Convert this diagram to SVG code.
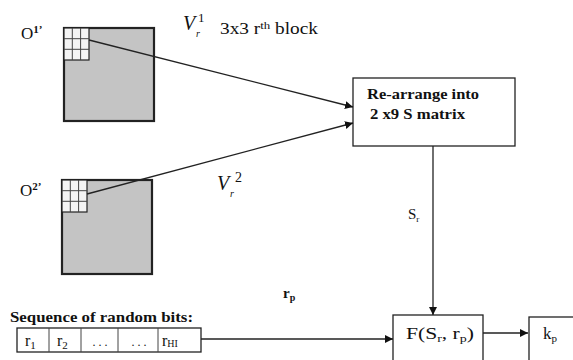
<svg xmlns="http://www.w3.org/2000/svg" width="573" height="360" viewBox="0 0 573 360" font-family="'Liberation Serif', 'DejaVu Serif', serif">
<style>
text{fill:#111}
.blk{fill:#c4c4c4;stroke:#222;stroke-width:2.2}
.grid{fill:#f4f4f4;stroke:#222;stroke-width:1.2}
.gl{stroke:#444;stroke-width:1}
.box{fill:#fff;stroke:#222;stroke-width:1.3}
.con{stroke:#222;stroke-width:1.3;fill:none}
.b{font-weight:bold}
</style>
<defs>
<marker id="ah" viewBox="0 0 10 10" refX="10" refY="5" markerWidth="8" markerHeight="8" orient="auto" markerUnits="userSpaceOnUse">
<path d="M0,0 L10,5 L0,10 z" fill="#111"/>
</marker>
</defs>
<g id="block1">
<rect class="blk" x="64" y="28" width="90" height="93"/>
<rect class="grid" x="64" y="28" width="25" height="32"/>
<path class="gl" d="M72.3,28V60M80.6,28V60M64,38.7H89M64,49.3H89"/>
<text x="21" y="39" font-size="17">O<tspan font-size="11" dy="-6" class="b">1’</tspan></text>
</g>
<g id="block2">
<rect class="blk" x="62" y="180" width="90" height="94"/>
<rect class="grid" x="62" y="180" width="25" height="32"/>
<path class="gl" d="M70.3,180V212M78.6,180V212M62,190.7H87M62,201.3H87"/>
<text x="20" y="196" font-size="17">O<tspan font-size="11" dy="-6" class="b">2’</tspan></text>
</g>
<g id="labels">
<text x="183" y="30" font-size="20" font-style="italic">V</text>
<text x="196" y="37" font-size="10" font-style="italic">r</text>
<text x="198" y="22" font-size="13">1</text>
<text x="220" y="34" font-size="16.5" textLength="98" lengthAdjust="spacingAndGlyphs">3x3 r<tspan font-size="11" dy="-5">th</tspan><tspan dy="5"> block</tspan></text>
<text x="217" y="190" font-size="20" font-style="italic">V</text>
<text x="230" y="197" font-size="10" font-style="italic">r</text>
<text x="235" y="182" font-size="14">2</text>
<text x="408" y="219" font-size="15">S<tspan font-size="9" dy="3">r</tspan></text>
<text x="283" y="298" font-size="15" class="b">r<tspan font-size="10" dy="3">p</tspan></text>
</g>
<g id="rearrange">
<rect class="box" x="353" y="78" width="162" height="68"/>
<text x="367" y="99" font-size="15" class="b" textLength="112" lengthAdjust="spacingAndGlyphs">Re-arrange into</text>
<text x="370" y="119" font-size="15" class="b" textLength="95" lengthAdjust="spacingAndGlyphs">2 x9 S matrix</text>
</g>
<g id="sequence">
<text x="10" y="322" font-size="15" class="b" textLength="183" lengthAdjust="spacingAndGlyphs">Sequence of random bits:</text>
<rect class="box" x="17" y="328" width="184" height="24" stroke-width="1.5"/>
<path class="gl" d="M49,328V352M81,328V352M118,328V352M158,328V352" stroke-width="1.3"/>
<text x="25" y="346" font-size="16">r<tspan font-size="11" dy="3">1</tspan></text>
<text x="57" y="346" font-size="16">r<tspan font-size="11" dy="3">2</tspan></text>
<text x="100" y="346" font-size="12" text-anchor="middle">. . .</text>
<text x="139" y="346" font-size="12" text-anchor="middle">. . .</text>
<text x="162" y="346" font-size="16">r<tspan font-size="10" dy="1">HI</tspan></text>
</g>
<g id="func">
<rect class="box" x="393" y="315" width="90" height="50"/>
<text x="406" y="339" font-size="17" textLength="68" lengthAdjust="spacingAndGlyphs">F(S<tspan font-size="11" dy="3">r</tspan><tspan dy="-3">, r</tspan><tspan font-size="11" dy="3">p</tspan><tspan dy="-3">)</tspan></text>
</g>
<g id="kp">
<rect class="box" x="529" y="317" width="50" height="50" stroke-width="1.6"/>
<text x="543" y="339" font-size="17">k<tspan font-size="11" dy="3">p</tspan></text>
</g>
<g id="connectors">
<line class="con" x1="89" y1="40" x2="353" y2="107" marker-end="url(#ah)"/>
<line class="con" x1="87" y1="194" x2="353" y2="123" marker-end="url(#ah)"/>
<line class="con" x1="433" y1="146" x2="433" y2="315" marker-end="url(#ah)"/>
<line class="con" x1="201" y1="339" x2="393" y2="339" marker-end="url(#ah)"/>
<line class="con" x1="483" y1="333" x2="528" y2="333" marker-end="url(#ah)"/>
</g>
</svg>
